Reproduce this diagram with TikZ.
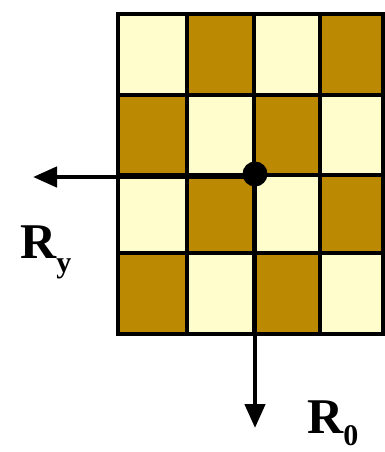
\documentclass[tikz,border=0pt]{standalone}
\usepackage{fontspec}
\setmainfont{Liberation Serif}
\usetikzlibrary{arrows.meta}
\definecolor{darkc}{RGB}{188,138,2}
\definecolor{lightc}{RGB}{255,253,204}
\tikzset{
  gridline/.style={line width=4pt, black},
  arr/.style={line width=4.5pt, -{Triangle[length=24pt,width=20pt]}},
  lbl/.style={anchor=base west, inner sep=0pt, font=\fontsize{50}{50}\selectfont\bfseries},
}
\newcommand{\subtx}[2]{\raisebox{#1}{\fontsize{30}{30}\selectfont\bfseries #2}}
\begin{document}
\begin{tikzpicture}[x=1pt,y=-1pt]
\useasboundingbox (0,0) rectangle (385,452);
\fill[white] (0,0) rectangle (385,452);
% cells
\def\xs{{118,187,254,320,384}}
\def\ys{{14,95,175,253,334}}
\foreach \r in {0,...,3}{
  \foreach \c in {0,...,3}{
    \pgfmathsetmacro{\xa}{\xs[\c]}
    \pgfmathsetmacro{\xb}{\xs[\c+1]}
    \pgfmathsetmacro{\ya}{\ys[\r]}
    \pgfmathsetmacro{\yb}{\ys[\r+1]}
    \pgfmathtruncatemacro{\parity}{mod(\r+\c,2)}
    \ifnum\parity=0
      \fill[lightc] (\xa,\ya) rectangle (\xb,\yb);
    \else
      \fill[darkc] (\xa,\ya) rectangle (\xb,\yb);
    \fi
  }
}
\foreach \x in {187,254,320}{\draw[gridline] (\x,14) -- (\x,334);}
\foreach \y in {95,175,253}{\draw[gridline] (118,\y) -- (384,\y);}
\draw[gridline] (118,14) rectangle (383,334);
% dot and arrows
\node[circle, fill=black, inner sep=0pt, minimum size=25pt] (dot) at (255,174) {};
\coordinate (tipL) at (33,177);
\coordinate (tipD) at (255,428);
\draw[arr] (dot.center) ++(0,3) -- (tipL);
\draw[arr] (dot.center) -- (tipD);
% labels
\node[lbl] (ry) at (20,258) {R\subtx{-14pt}{y}};
\node[lbl] (ro) at (307,433) {R\subtx{-12pt}{0}};
\end{tikzpicture}
\end{document}
